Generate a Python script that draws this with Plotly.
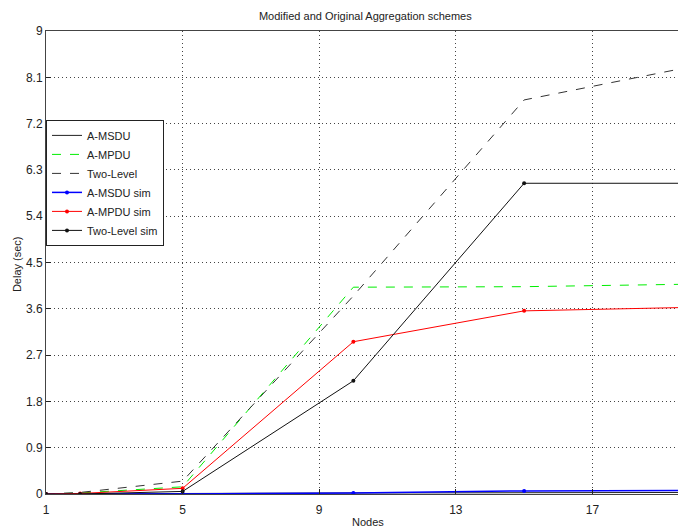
import plotly.graph_objects as go

# Delay vs number of nodes for the aggregation schemes
nodes = [1, 2, 5, 10, 15, 20]

a_msdu = [0, 0, 0.01, 0.02, 0.03, 0.03]
a_mpdu = [0, 0.02, 0.14, 4.02, 4.03, 4.08]
two_level = [0, 0.03, 0.25, 3.85, 7.66, 8.32]

a_msdu_sim = [0, 0, 0.0, 0.02, 0.06, 0.07]
a_mpdu_sim = [0, 0.01, 0.11, 2.96, 3.56, 3.63]
two_level_sim = [0, 0, 0.05, 2.2, 6.04, 6.04]

x_ticks = [1, 5, 9, 13, 17]
y_ticks = [0, 0.9, 1.8, 2.7, 3.6, 4.5, 5.4, 6.3, 7.2, 8.1, 9]

fig = go.Figure()

# analytic curves
fig.add_trace(go.Scatter(x=nodes, y=a_msdu, mode="lines", name="A-MSDU",
                         line=dict(color="#222222", width=1)))
fig.add_trace(go.Scatter(x=nodes, y=a_mpdu, mode="lines", name="A-MPDU",
                         line=dict(color="#00ee00", width=1, dash="dash")))
fig.add_trace(go.Scatter(x=nodes, y=two_level, mode="lines", name="Two-Level",
                         line=dict(color="#333333", width=1, dash="dash")))

# simulation curves
fig.add_trace(go.Scatter(x=nodes, y=a_msdu_sim, mode="lines+markers", name="A-MSDU sim",
                         line=dict(color="#0000ff", width=1.5),
                         marker=dict(size=4, color="#0000ff")))
fig.add_trace(go.Scatter(x=nodes, y=a_mpdu_sim, mode="lines+markers", name="A-MPDU sim",
                         line=dict(color="#ff0000", width=1),
                         marker=dict(size=4, color="#ff0000")))
fig.add_trace(go.Scatter(x=nodes, y=two_level_sim, mode="lines+markers", name="Two-Level sim",
                         line=dict(color="#111111", width=1),
                         marker=dict(size=4, color="#111111")))

# page body has an 8px margin, so the figure is a bit smaller than the window
fig.update_layout(
    width=678,
    height=523,
    margin=dict(l=38, r=0, t=23, b=37),
    paper_bgcolor="white",
    plot_bgcolor="white",
    font=dict(family="Liberation Sans, Arial, sans-serif", size=11, color="#222222"),
    title=dict(text="Modified and Original Aggregation schemes",
               x=0.527, xanchor="center", y=0.985, yanchor="middle",
               font=dict(size=11, color="#222222")),
    legend=dict(x=0, y=0.808, xanchor="left", yanchor="top",
                bgcolor="white", bordercolor="#222222", borderwidth=1,
                font=dict(size=11, color="#222222"), tracegroupgap=0),
    showlegend=True,
)

# axis titles placed by hand
fig.add_annotation(text="Nodes", xref="paper", yref="paper", x=0.503, y=-0.06,
                   xanchor="center", yanchor="middle", showarrow=False,
                   font=dict(size=11, color="#222222"))
fig.add_annotation(text="Delay (sec)", xref="paper", yref="paper", x=-0.045, y=0.497,
                   xanchor="center", yanchor="middle", showarrow=False, textangle=-90,
                   font=dict(size=11, color="#222222"))

fig.update_xaxes(
    range=[1, 19.74], tickvals=x_ticks, ticks="inside", ticklen=5,
    tickcolor="#222222", showline=True, linecolor="#444444", linewidth=1,
    mirror=True, showgrid=True, gridcolor="#444444", griddash="1px,3px",
    gridwidth=1, zeroline=False, tickfont=dict(size=12), automargin=False,
    ticklabelstandoff=5,
)
fig.update_yaxes(
    range=[0, 9], tickvals=y_ticks, ticktext=[f"{v:g}" for v in y_ticks],
    ticks="inside", ticklen=5, tickcolor="#222222",
    showline=True, linecolor="#444444", linewidth=1,
    showgrid=True, gridcolor="#444444", griddash="1px,3px", gridwidth=1,
    zeroline=False, tickfont=dict(size=12), automargin=False,
)

fig.write_html("out.html")
